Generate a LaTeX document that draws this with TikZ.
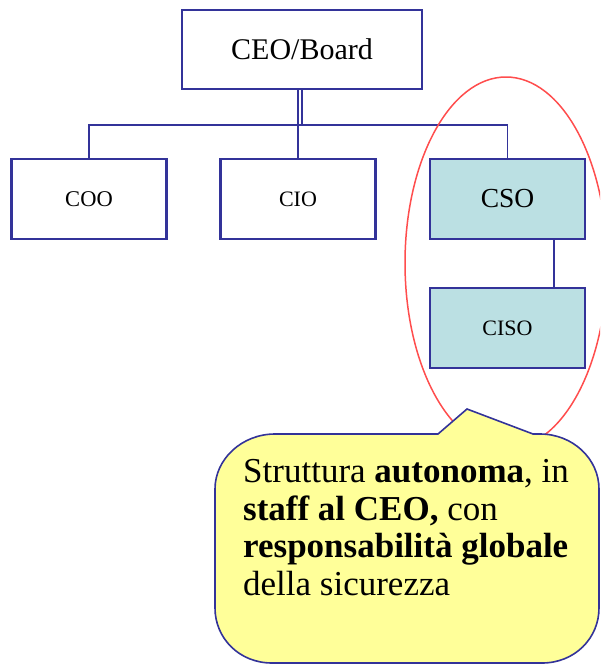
\documentclass[tikz,border=0pt]{standalone}
\usepackage{fontspec}
\setmainfont{Liberation Serif}
\usetikzlibrary{shapes.geometric}
\definecolor{boxblue}{HTML}{333399}
\definecolor{csofill}{HTML}{BBE0E3}
\definecolor{notefill}{HTML}{FFFF99}
\definecolor{ringred}{HTML}{FF4D4D}
\tikzset{
  orgbox/.style={draw=boxblue, line width=2.2pt, fill=white, minimum width=155pt, minimum height=80pt, inner sep=0pt},
  secbox/.style={orgbox, fill=csofill},
  conn/.style={draw=boxblue, line width=1.6pt},
  calloutshape/.style={draw=boxblue, line width=1.6pt, fill=notefill, line join=miter},
  ring/.style={draw=ringred, line width=1.5pt, ellipse, minimum width=202pt, minimum height=372pt, inner sep=0pt}
}
\begin{document}
\begin{tikzpicture}[x=1pt,y=-1pt]
\useasboundingbox (0,0) rectangle (600,664);
\clip (0,0) rectangle (600,664);
% boxes
\node[orgbox, minimum width=240pt, minimum height=79pt, font=\fontsize{30}{34}\selectfont] (ceo) at (302,49.5) {CEO/Board};
\node[orgbox, font=\fontsize{22.5}{26}\selectfont] (coo) at (89,199) {COO};
\node[orgbox, font=\fontsize{22}{26}\selectfont] (cio) at (298,199) {CIO};
\node[secbox, font=\fontsize{27.5}{31}\selectfont] (cso) at (507.5,199) {CSO};
\node[secbox, font=\fontsize{22}{26}\selectfont] (ciso) at (507.5,328) {CISO};
\coordinate (bus) at (0,125);
% connectors
\draw[conn] (ceo.south) -- (ceo.south |- bus);
\draw[conn] (ceo.south -| cio.north) -- (cio.north);
\draw[conn] (coo.north) |- (cso.north |- bus) -- (cso.north);
\draw[conn] ([xshift=46.5pt]cso.south) -- ([xshift=46.5pt]ciso.north);
% red ellipse
\node[ring] (group) at (506,263) {};
% callout
\draw[calloutshape] (215,489) .. controls (215,459) and (242,434) .. (275,434)
  -- (438,434) -- (467,409) -- (533,434) -- (540,434)
  .. controls (573,434) and (599,459) .. (599,489)
  -- (599,608) .. controls (599,638) and (575,663) .. (542,663)
  -- (272,663) .. controls (239,663) and (215,638) .. (215,608) -- cycle;
\node[anchor=base west, align=left, inner sep=0pt, font=\fontsize{35}{37.5}\selectfont] (note) at (243,595)
  {Struttura \textbf{autonoma}, in\\ \textbf{staff al CEO,} con\\ \textbf{responsabilità globale}\\ della sicurezza};
\end{tikzpicture}
\end{document}
